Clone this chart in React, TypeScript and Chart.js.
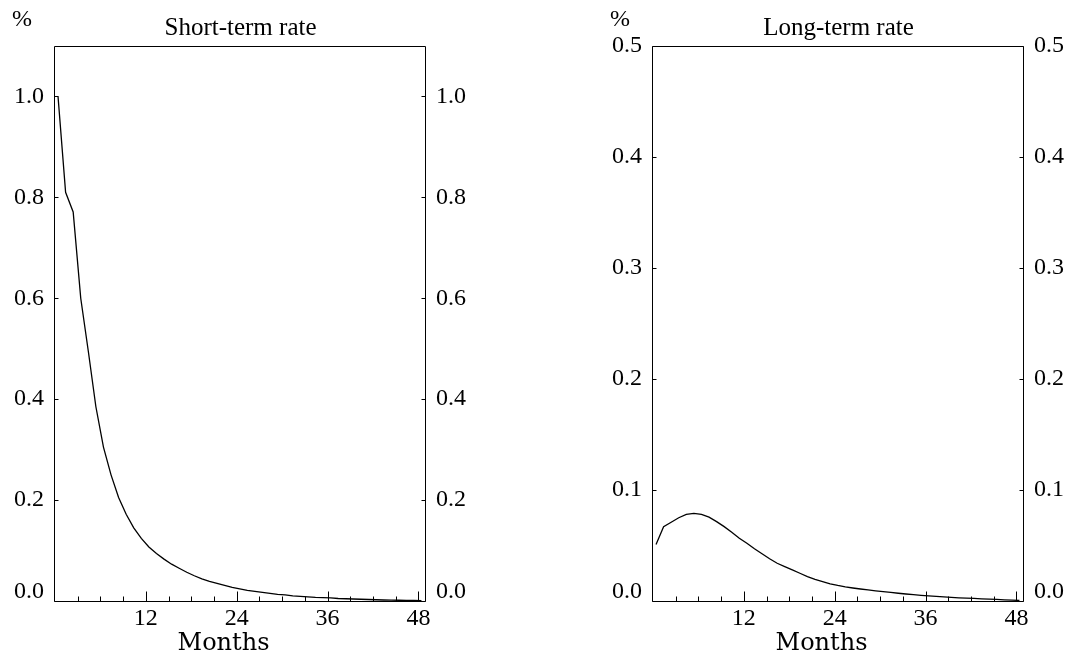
import React, { useEffect, useRef } from "react";
import { Chart, registerables } from "chart.js";

Chart.register(...registerables);

// Months at which the responses are plotted
const months = [
  0.4, 1.4, 2.4, 3.4, 4.4, 5.4, 6.4, 7.4, 8.4, 9.4,
  10.4, 11.4, 12.4, 13.4, 14.4, 15.4, 16.4, 17.4, 18.4, 19.4,
  20.4, 21.4, 22.4, 23.4, 24.4, 25.4, 26.4, 27.4, 28.4, 29.4,
  30.4, 31.4, 32.4, 33.4, 34.4, 35.4, 36.4, 37.4, 38.4, 39.4,
  40.4, 41.4, 42.4, 43.4, 44.4, 45.4, 46.4, 47.4, 48.4,
];

const shortRate = [
  1.0, 0.81, 0.771, 0.6, 0.495, 0.385, 0.305, 0.25, 0.205, 0.172,
  0.145, 0.124, 0.107, 0.094, 0.083, 0.073, 0.065, 0.057, 0.05, 0.044,
  0.039, 0.035, 0.031, 0.027, 0.024, 0.021, 0.019, 0.017, 0.015, 0.013,
  0.012, 0.01, 0.009, 0.008, 0.007, 0.0065, 0.006, 0.005, 0.0045, 0.004,
  0.0035, 0.003, 0.0025, 0.002, 0.0018, 0.0015, 0.0012, 0.001, 0.0008,
];

const longRate = [
  0.051, 0.067, 0.071, 0.075, 0.078, 0.079, 0.078, 0.0755, 0.0715, 0.067,
  0.062, 0.0565, 0.052, 0.047, 0.0425, 0.038, 0.034, 0.031, 0.028, 0.025,
  0.022, 0.0195, 0.0175, 0.0155, 0.014, 0.0127, 0.0117, 0.0108, 0.01, 0.0092,
  0.0085, 0.0077, 0.007, 0.0063, 0.0057, 0.0051, 0.0046, 0.0041, 0.0037, 0.0033,
  0.0029, 0.0026, 0.0023, 0.002, 0.0017, 0.0014, 0.0011, 0.0008, 0.0005,
];

const shortYTicks = [0, 0.2, 0.4, 0.6, 0.8, 1.0];
const longYTicks = [0, 0.1, 0.2, 0.3, 0.4, 0.5];
const xMajorTicks = [12, 24, 36, 48];
const xMinorTicks = [3, 6, 9, 15, 18, 21, 27, 30, 33, 39, 42, 45];

type PanelProps = {
  title: string;
  values: number[];
  yMax: number;
  yTicks: number[];
  padding: { left: number; right: number; top: number; bottom: number };
};

function makeFramePlugin(title: string, yTicks: number[]) {
  return {
    id: "frame",
    afterDraw(chart: any) {
      const ctx = chart.ctx as CanvasRenderingContext2D;
      const { left, right, top, bottom } = chart.chartArea;
      const xs = chart.scales.x;
      const ys = chart.scales.y;
      ctx.save();
      ctx.strokeStyle = "#000";
      ctx.lineWidth = 1;
      const L = Math.round(left) - 0.5;
      const R = Math.round(right) - 0.5;
      const T = Math.round(top) + 0.5;
      const B = Math.round(bottom) + 0.5;
      ctx.beginPath();
      ctx.moveTo(L, T);
      ctx.lineTo(R, T);
      ctx.lineTo(R, B);
      ctx.lineTo(L, B);
      ctx.closePath();
      ctx.stroke();

      // y ticks, inward on both sides
      ctx.beginPath();
      for (const v of yTicks) {
        const y = Math.round(ys.getPixelForValue(v)) + 0.5;
        ctx.moveTo(L, y);
        ctx.lineTo(L + 4, y);
        ctx.moveTo(R, y);
        ctx.lineTo(R - 4, y);
      }
      // x ticks
      for (const v of xMinorTicks) {
        const x = Math.round(xs.getPixelForValue(v)) + 0.5;
        ctx.moveTo(x, B);
        ctx.lineTo(x, B - 5);
      }
      for (const v of xMajorTicks) {
        const x = Math.round(xs.getPixelForValue(v)) + 0.5;
        ctx.moveTo(x, B);
        ctx.lineTo(x, B - 10);
      }
      ctx.stroke();

      ctx.fillStyle = "#000";
      ctx.font = '24px "Liberation Serif"';
      ctx.textBaseline = "middle";
      for (const v of yTicks) {
        let y = ys.getPixelForValue(v);
        y = Math.min(y, bottom - 9);
        const label = v.toFixed(1);
        ctx.textAlign = "right";
        ctx.fillText(label, left - 11, y);
        ctx.textAlign = "left";
        ctx.fillText(label, right + 10, y);
      }
      ctx.textAlign = "center";
      for (const v of xMajorTicks) {
        ctx.fillText(String(v), xs.getPixelForValue(v), bottom + 18);
      }

      ctx.textBaseline = "alphabetic";
      ctx.fillText("%", left - 33, 26);
      ctx.font = '25px "Liberation Serif"';
      ctx.fillText(title, (left + right) / 2, 35);

      ctx.font = '24px "DejaVu Serif"';
      ctx.fillText("Months", (left + right) / 2 - 17, 650);
      ctx.restore();
    },
  };
}

function Panel({ title, values, yMax, yTicks, padding }: PanelProps) {
  const ref = useRef<HTMLCanvasElement | null>(null);
  useEffect(() => {
    if (!ref.current) return;
    const chart = new Chart(ref.current, {
      type: "line",
      data: {
        datasets: [
          {
            data: months.map((m, i) => ({ x: m, y: values[i] })),
            borderColor: "#000",
            borderWidth: 1.3,
            pointRadius: 0,
            tension: 0,
            fill: false,
          },
        ],
      },
      options: {
        animation: false,
        responsive: false,
        devicePixelRatio: 1,
        layout: { padding },
        plugins: { legend: { display: false }, tooltip: { enabled: false } },
        scales: {
          x: { type: "linear", min: 0, max: 49, display: false },
          y: { type: "linear", min: 0, max: yMax, display: false },
        },
      },
      plugins: [makeFramePlugin(title, yTicks)],
    } as any);
    return () => chart.destroy();
  }, [title, values, yMax, yTicks, padding]);
  return <canvas ref={ref} width={536} height={658} style={{ display: "block" }} />;
}

const leftPad = { left: 55, right: 110, top: 46, bottom: 57 };
const rightPad = { left: 117, right: 48, top: 46, bottom: 57 };

export default function App() {
  return (
    <div
      style={{
        position: "absolute",
        left: 0,
        top: 0,
        width: 1072,
        height: 658,
        background: "#fff",
        display: "flex",
      }}
    >
      <Panel title="Short-term rate" values={shortRate} yMax={1.1} yTicks={shortYTicks} padding={leftPad} />
      <Panel title="Long-term rate" values={longRate} yMax={0.5} yTicks={longYTicks} padding={rightPad} />
    </div>
  );
}
